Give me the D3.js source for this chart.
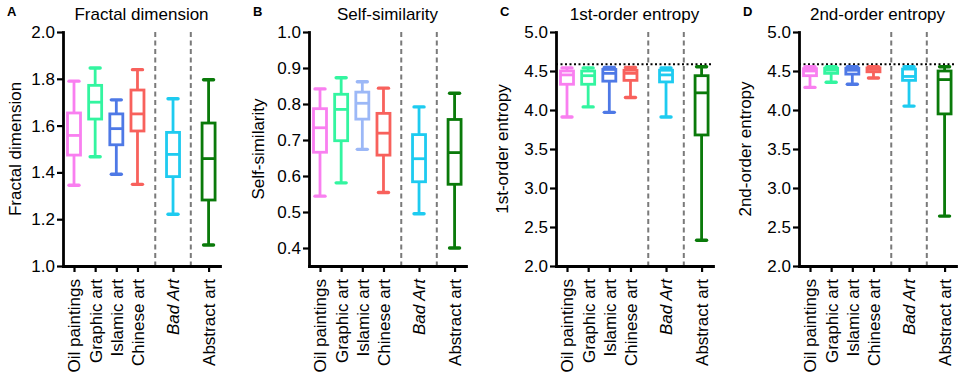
<!DOCTYPE html>
<html>
<head>
<meta charset="utf-8">
<script src="https://cdn.jsdelivr.net/npm/d3@7"></script>
<style>
  body { margin: 0; background: #fff; }
  svg { font-family: "Liberation Sans", Arial, sans-serif; }
</style>
</head>
<body>
<div id="chart"></div>
<script>
// categories and which block (separated by dashed lines) each belongs to
const categories = ["Oil paintings", "Graphic art", "Islamic art", "Chinese art", "Bad Art", "Abstract art"];
const groups = [0, 0, 0, 0, 1, 2];
const colors = ["#f97ff0", "#33f5a0", "#4e79e6", "#f8615c", "#1ecbf0", "#0a7a0a"];

// box values: [min, q1, median, q3, max]
const fractalDimension = [
  [1.345, 1.474, 1.558, 1.654, 1.790],
  [1.467, 1.628, 1.700, 1.772, 1.846],
  [1.392, 1.518, 1.587, 1.650, 1.710],
  [1.349, 1.577, 1.650, 1.752, 1.839],
  [1.221, 1.382, 1.477, 1.571, 1.715],
  [1.090, 1.282, 1.459, 1.611, 1.796]
];
const selfSimilarity = [
  [0.544, 0.666, 0.734, 0.787, 0.842],
  [0.581, 0.698, 0.785, 0.827, 0.873],
  [0.674, 0.758, 0.802, 0.833, 0.862],
  [0.554, 0.658, 0.719, 0.774, 0.844],
  [0.495, 0.584, 0.648, 0.715, 0.792],
  [0.400, 0.577, 0.665, 0.757, 0.830]
];
const entropy1st = [
  [3.91, 4.33, 4.45, 4.50, 4.540],
  [4.04, 4.33, 4.44, 4.50, 4.540],
  [3.97, 4.37, 4.47, 4.52, 4.545],
  [4.16, 4.38, 4.47, 4.51, 4.545],
  [3.91, 4.36, 4.45, 4.51, 4.540],
  [2.33, 3.68, 4.22, 4.44, 4.555]
];
const entropy2nd = [
  [4.29, 4.44, 4.50, 4.53, 4.555],
  [4.355, 4.47, 4.51, 4.535, 4.555],
  [4.33, 4.46, 4.51, 4.535, 4.555],
  [4.41, 4.49, 4.52, 4.54, 4.555],
  [4.05, 4.38, 4.43, 4.525, 4.555],
  [2.64, 3.95, 4.39, 4.50, 4.555]
];
const maxEntropy = 4.585;

const fractalTicks = [1.0, 1.2, 1.4, 1.6, 1.8, 2.0];
const similarityTicks = [0.4, 0.5, 0.6, 0.7, 0.8, 0.9, 1.0];
const entropyTicks = [2.0, 2.5, 3.0, 3.5, 4.0, 4.5, 5.0];

const panels = [
  { letter: "A", title: "Fractal dimension", values: fractalDimension, domain: [1, 2], ticks: fractalTicks, left: 63, titleOff: -48 },
  { letter: "B", title: "Self-similarity", values: selfSimilarity, domain: [0.35, 1], ticks: similarityTicks, left: 309, titleOff: -51, islamic: "#9cb8f7" },
  { letter: "C", title: "1st-order entropy", values: entropy1st, domain: [2, 5], ticks: entropyTicks, left: 556, titleOff: -54, ceiling: maxEntropy },
  { letter: "D", title: "2nd-order entropy", values: entropy2nd, domain: [2, 5], ticks: entropyTicks, left: 799, titleOff: -54, ceiling: maxEntropy }
];

const plotW = 157, plotTop = 32, plotBottom = 266;
const gap = 0.68, boxW = 13, capW = 10;
const fontSize = "17px";

const svg = d3.select("#chart").append("svg")
    .attr("width", 964)
    .attr("height", 376);

const x = d3.scaleLinear().domain([-0.52, 6.9]).range([0, plotW]);
const pos = categories.map((c, i) => i + groups[i] * gap);

panels.forEach(p => {
    const g = svg.append("g").attr("transform", "translate(" + p.left + ",0)");
    const y = d3.scaleLinear().domain(p.domain).range([plotBottom, plotTop]);

    // dashed separators between the blocks
    [(pos[3] + pos[4]) / 2, (pos[4] + pos[5]) / 2].forEach(v => {
        g.append("line")
            .attr("x1", x(v)).attr("x2", x(v))
            .attr("y1", plotTop).attr("y2", plotBottom)
            .attr("stroke", "#7a7a7a")
            .attr("stroke-width", 2)
            .attr("stroke-dasharray", "5,3.5");
    });

    if (p.ceiling) {
        g.append("line")
            .attr("x1", 0).attr("x2", plotW)
            .attr("y1", y(p.ceiling)).attr("y2", y(p.ceiling))
            .attr("stroke", "#000")
            .attr("stroke-width", 2)
            .attr("stroke-dasharray", "2,2.5");
    }

    p.values.forEach((d, i) => {
        const [mn, q1, med, q3, mx] = d;
        const cx = x(pos[i]);
        const col = (i === 2 && p.islamic) ? p.islamic : colors[i];
        const b = g.append("g").attr("stroke", col).attr("fill", "none");
        b.append("line").attr("x1", cx).attr("x2", cx).attr("y1", y(q3)).attr("y2", y(mx)).attr("stroke-width", 2.8);
        b.append("line").attr("x1", cx).attr("x2", cx).attr("y1", y(q1)).attr("y2", y(mn)).attr("stroke-width", 2.8);
        b.append("line").attr("x1", cx - capW / 2).attr("x2", cx + capW / 2).attr("y1", y(mx)).attr("y2", y(mx))
            .attr("stroke-width", 3.4).attr("stroke-linecap", "round");
        b.append("line").attr("x1", cx - capW / 2).attr("x2", cx + capW / 2).attr("y1", y(mn)).attr("y2", y(mn))
            .attr("stroke-width", 3.4).attr("stroke-linecap", "round");
        b.append("rect")
            .attr("x", cx - boxW / 2).attr("y", y(q3))
            .attr("width", boxW).attr("height", y(q1) - y(q3))
            .attr("fill", "#fff")
            .attr("stroke-width", 2.8);
        b.append("line").attr("x1", cx - boxW / 2).attr("x2", cx + boxW / 2).attr("y1", y(med)).attr("y2", y(med))
            .attr("stroke-width", 2.8);
    });

    // axes
    const yAxis = g.append("g")
        .call(d3.axisLeft(y).tickValues(p.ticks).tickFormat(d3.format(".1f")).tickSize(6).tickSizeOuter(0).tickPadding(2));
    const xAxis = g.append("g")
        .attr("transform", "translate(0," + plotBottom + ")")
        .call(d3.axisBottom(x).tickValues(pos).tickFormat((d, i) => categories[i]).tickSize(6).tickSizeOuter(0));

    [yAxis, xAxis].forEach(a => {
        a.select(".domain").attr("stroke", "#000").attr("stroke-width", 2.8).attr("stroke-linecap", "square");
        a.selectAll(".tick line").attr("stroke", "#000").attr("stroke-width", 2.2);
        a.selectAll(".tick text").attr("fill", "#000").style("font-size", fontSize);
    });

    xAxis.selectAll(".tick text")
        .attr("transform", "rotate(-90)")
        .attr("text-anchor", "end")
        .attr("x", -13)
        .attr("y", 0)
        .attr("dy", "0.35em")
        .style("font-style", (d, i) => i === 4 ? "italic" : "normal");

    // titles
    g.append("text")
        .attr("x", plotW / 2).attr("y", 20)
        .attr("text-anchor", "middle")
        .style("font-size", fontSize)
        .text(p.title);

    g.append("text")
        .attr("x", -56).attr("y", 16)
        .style("font-size", "13px")
        .style("font-weight", "bold")
        .text(p.letter);

    g.append("text")
        .attr("transform", "translate(" + p.titleOff + "," + ((plotTop + plotBottom) / 2) + ") rotate(-90)")
        .attr("text-anchor", "middle")
        .attr("dy", "0.35em")
        .style("font-size", fontSize)
        .text(p.title);
});
</script>
</body>
</html>
